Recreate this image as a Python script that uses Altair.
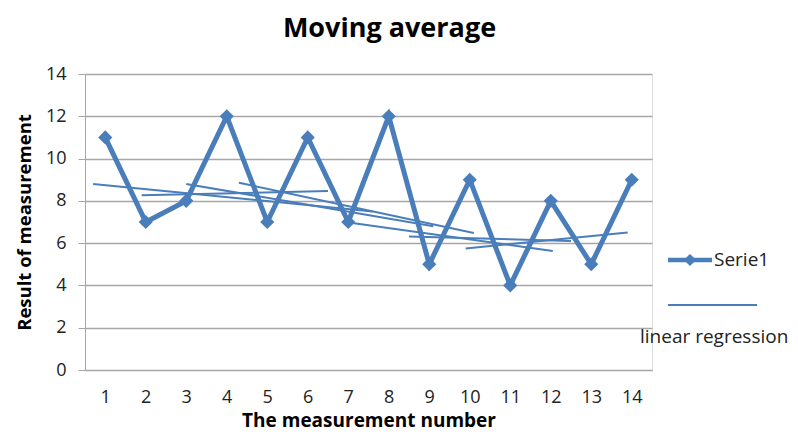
import altair as alt
import pandas as pd

measurement = list(range(1, 15))
values = [11, 7, 8, 12, 7, 11, 7, 12, 5, 9, 4, 8, 5, 9]

# regression segments (start x, start y, end x, end y)
seg_x1 = [0.7, 1.9, 3.0, 4.3, 7.1, 8.5, 9.9]
seg_y1 = [8.8, 8.26, 8.8, 8.86, 6.95, 6.32, 5.75]
seg_x2 = [7.6, 6.5, 9.1, 10.1, 12.05, 12.5, 13.9]
seg_y2 = [7.5, 8.47, 6.8, 6.48, 5.63, 6.1, 6.5]

y_ticks = [0, 2, 4, 6, 8, 10, 12, 14]

BLUE = "#4a7ebb"
GRID = "#a6a6a6"
FONT = "Open Sans"

series = pd.DataFrame({"n": measurement, "v": values})
rows = []
for i in range(len(seg_x1)):
    rows.append({"seg": i, "x": seg_x1[i], "y": seg_y1[i]})
    rows.append({"seg": i, "x": seg_x2[i], "y": seg_y2[i]})
segs = pd.DataFrame(rows)

xscale = alt.Scale(domain=[0.5, 14.5], nice=False, zero=False)
yscale = alt.Scale(domain=[0, 14], nice=False)

xaxis = alt.Axis(values=measurement, title="The measurement number", grid=False,
                 ticks=False, domainColor=GRID, labelFontSize=18, labelFont=FONT,
                 labelColor="#222", labelPadding=18, titleFont=FONT, titleFontSize=19,
                 titleFontWeight="bold", titleColor="#000", titlePadding=5, format="d")
yaxis = alt.Axis(values=y_ticks, title="Result of measurement", grid=True, gridColor=GRID,
                 gridWidth=1.3, tickColor=GRID, tickSize=7, domainColor=GRID,
                 labelFontSize=18, labelFont=FONT, labelColor="#222", labelPadding=12,
                 titleFont=FONT, titleFontSize=18.5, titleFontWeight="bold",
                 titleColor="#000", titlePadding=11)

reg = alt.Chart(segs).mark_line(color=BLUE, strokeWidth=2).encode(
    x=alt.X("x:Q", scale=xscale, axis=xaxis),
    y=alt.Y("y:Q", scale=yscale, axis=yaxis),
    detail="seg:N",
)

line = alt.Chart(series).mark_line(
    color=BLUE, strokeWidth=5,
    point=alt.OverlayMarkDef(shape="diamond", size=200, color=BLUE, filled=True),
).encode(
    x=alt.X("n:Q", scale=xscale),
    y=alt.Y("v:Q", scale=yscale),
)

one = pd.DataFrame({"a": [0]})
leg_line1 = alt.Chart(one).mark_rule(color=BLUE, strokeWidth=4.5).encode(
    x=alt.value(583), x2=alt.value(627), y=alt.value(186))
leg_pt1 = alt.Chart(one).mark_point(shape="diamond", size=150, filled=True,
                                    color=BLUE, opacity=1).encode(
    x=alt.value(605), y=alt.value(186))
leg_txt1 = alt.Chart(one).mark_text(text="Serie1", font=FONT, fontSize=19,
                                    align="left", baseline="middle", color="#222").encode(
    x=alt.value(629), y=alt.value(186))
leg_line2 = alt.Chart(one).mark_rule(color=BLUE, strokeWidth=2).encode(
    x=alt.value(583), x2=alt.value(672), y=alt.value(231))
leg_txt2 = alt.Chart(one).mark_text(text="linear regression", font=FONT, fontSize=19,
                                    align="left", baseline="middle", color="#222").encode(
    x=alt.value(555), y=alt.value(263))

chart = alt.layer(reg, line, leg_line1, leg_pt1, leg_txt1, leg_line2, leg_txt2).properties(
    width=567, height=296,
    title=alt.TitleParams("Moving average", font=FONT, fontSize=27, fontWeight="bold",
                          color="#000", anchor="middle", dx=21, offset=22),
    autosize=alt.AutoSizeParams(type="none"),
    padding={"left": 77, "top": 66, "right": 138, "bottom": 65},
).configure_view(stroke=None).configure(background="white")

chart.save("out.html", embed_options={"renderer": "svg", "actions": False})
